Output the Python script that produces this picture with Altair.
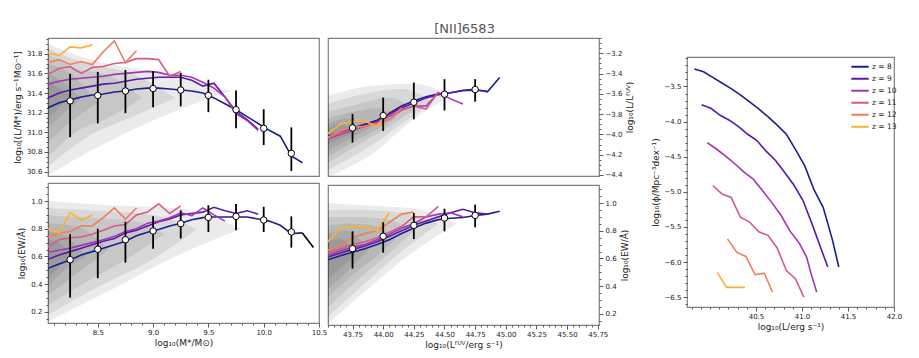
import altair as alt
import pandas as pd
import numpy as np

FONT = "DejaVu Sans"

# ---------------- redshift series ----------------
Z_LABELS = ["8", "9", "10", "11", "12", "13"]
Z_COLORS = ["#1c1f8e", "#5c18aa", "#a336b2", "#d75a88", "#f27c5c", "#f9b233"]

# stellar-mass grid (left column)
M_GRID = [8.05, 8.15, 8.25, 8.35, 8.45, 8.55, 8.65, 8.75, 8.85, 8.95, 9.05, 9.15,
          9.25, 9.35, 9.45, 9.55, 9.65, 9.75, 9.85, 9.95, 10.05, 10.15, 10.25, 10.35]

LM_Z = {
    "8": [31.25, 31.30, 31.33, 31.36, 31.38, 31.39, 31.41, 31.42, 31.44, 31.45, 31.45, 31.44,
          31.43, 31.42, 31.40, 31.35, 31.29, 31.23, 31.16, 31.09, 31.02, 30.96, 30.76, 30.69],
    "9": [31.35, 31.40, 31.43, 31.45, 31.47, 31.49, 31.50, 31.52, 31.54, 31.55, 31.56, 31.56,
          31.56, 31.53, 31.47, 31.50, 31.36, 31.21, 31.13, 31.03],
    "10": [31.49, 31.52, 31.54, 31.55, 31.56, 31.57, 31.59, 31.60, 31.61, 31.62, 31.61, 31.58,
           31.58, 31.56, 31.51, 31.45, 31.36, 31.19, 31.12, 31.02],
    "11": [31.59, 31.65, 31.67, 31.60, 31.66, 31.67, 31.70, 31.71, 31.75, 31.75, 31.74, 31.57, 31.62],
    "12": [31.71, 31.74, 31.69, 31.72, 31.69, 31.82, 31.93, 31.71, 31.83],
    "13": [31.81, 31.78, 31.87, 31.86, 31.89],
}

EWM_Z = {
    "8": [0.515, 0.545, 0.575, 0.61, 0.635, 0.66, 0.685, 0.71, 0.75, 0.775, 0.795, 0.82,
          0.84, 0.865, 0.88, 0.885, 0.885, 0.885, 0.885, 0.87, 0.855, 0.825, 0.765, 0.77],
    "9": [0.58, 0.61, 0.635, 0.66, 0.685, 0.71, 0.73, 0.77, 0.79, 0.82, 0.85, 0.87,
          0.90, 0.91, 0.92, 0.955, 0.93, 0.91, 0.93, 0.905],
    "10": [0.63, 0.645, 0.66, 0.68, 0.70, 0.72, 0.745, 0.78, 0.80, 0.84, 0.855, 0.88,
           0.915, 0.895, 0.95, 0.90, 0.855],
    "11": [0.67, 0.72, 0.735, 0.74, 0.76, 0.79, 0.82, 0.83, 0.90, 0.92, 0.98, 0.91, 0.965],
    "12": [0.74, 0.77, 0.78, 0.82, 0.82, 0.88, 0.95, 0.87, 0.95],
    "13": [0.80, 0.767, 0.916, 0.863, 0.897],
}
TAIL_M = [10.35, 10.45]
TAIL_EW = [0.77, 0.665]

# FUV-luminosity grid (middle column)
L_GRID = [43.55, 43.65, 43.75, 43.85, 43.95, 44.05, 44.15, 44.25, 44.35, 44.45,
          44.55, 44.65, 44.75, 44.85, 44.95]

RL_Z = {
    "8": [-4.02, -3.98, -3.94, -3.90, -3.86, -3.79, -3.72, -3.67, -3.63, -3.60, -3.59, -3.565, -3.555, -3.58, -3.44],
    "9": [-4.03, -3.99, -3.95, -3.91, -3.87, -3.80, -3.74, -3.69, -3.64, -3.61, -3.59, -3.57, -3.565, -3.575],
    "10": [-4.04, -4.00, -3.96, -3.92, -3.88, -3.82, -3.76, -3.72, -3.72, -3.59, -3.65, -3.70],
    "11": [-4.03, -3.99, -3.95, -3.92, -3.89, -3.85, -3.76, -3.72, -3.75, -3.58],
    "12": [-4.03, -3.97, -3.93, -3.92, -3.90, -3.85, -3.74],
    "13": [-3.99, -3.90, -3.87, -3.87, -3.92, -3.76],
}

EWL_Z = {
    "8": [0.59, 0.62, 0.645, 0.67, 0.70, 0.735, 0.78, 0.82, 0.855, 0.88, 0.89, 0.895, 0.91, 0.92, 0.94],
    "9": [0.61, 0.64, 0.665, 0.69, 0.72, 0.76, 0.80, 0.84, 0.87, 0.90, 0.93, 0.955, 0.93, 0.92],
    "10": [0.62, 0.655, 0.68, 0.70, 0.735, 0.775, 0.82, 0.85, 0.90, 0.92, 0.93, 0.90],
    "11": [0.64, 0.67, 0.70, 0.72, 0.75, 0.79, 0.83, 0.90, 0.90, 0.975],
    "12": [0.66, 0.70, 0.75, 0.78, 0.80, 0.86, 0.92, 0.935],
    "13": [0.72, 0.82, 0.83, 0.83, 0.80, 0.93],
}

# medians with 16-84 ranges (white points)
M_PTS = [8.25, 8.5, 8.75, 9.0, 9.25, 9.5, 9.75, 10.0, 10.25]
LM_MED = [31.32, 31.375, 31.42, 31.445, 31.43, 31.375, 31.23, 31.04, 30.785]
LM_LO = [30.95, 31.09, 31.195, 31.255, 31.265, 31.205, 31.04, 30.87, 30.605]
LM_HI = [31.595, 31.615, 31.635, 31.625, 31.605, 31.535, 31.425, 31.235, 31.05]
EWM_MED = [0.577, 0.652, 0.721, 0.784, 0.837, 0.882, 0.889, 0.863, 0.777]
EWM_LO = [0.303, 0.443, 0.556, 0.656, 0.73, 0.777, 0.789, 0.777, 0.664]
EWM_HI = [0.76, 0.80, 0.85, 0.89, 0.933, 0.969, 0.978, 0.959, 0.889]

L_PTS = [43.75, 44.0, 44.25, 44.5, 44.75]
RL_MED = [-3.936, -3.815, -3.683, -3.604, -3.558]
RL_LO = [-4.081, -3.966, -3.851, -3.765, -3.677]
RL_HI = [-3.798, -3.637, -3.489, -3.456, -3.456]
EWL_MED = [0.671, 0.76, 0.839, 0.892, 0.911]
EWL_LO = [0.527, 0.642, 0.74, 0.796, 0.825]
EWL_HI = [0.796, 0.861, 0.928, 0.959, 0.988]

# luminosity functions (right panel)
LF_L = {
    "8": [39.83, 39.93, 40.03, 40.13, 40.23, 40.33, 40.43, 40.53, 40.63, 40.73, 40.83, 40.93, 41.03, 41.13, 41.23, 41.33, 41.40],
    "9": [39.91, 40.01, 40.11, 40.21, 40.31, 40.41, 40.51, 40.61, 40.71, 40.81, 40.91, 41.01, 41.11, 41.21, 41.28],
    "10": [39.97, 40.07, 40.17, 40.27, 40.37, 40.47, 40.57, 40.67, 40.77, 40.87, 40.97, 41.05, 41.10, 41.16],
    "11": [40.03, 40.13, 40.23, 40.33, 40.43, 40.53, 40.63, 40.73, 40.83, 40.93, 41.02],
    "12": [40.19, 40.29, 40.39, 40.49, 40.59, 40.68],
    "13": [40.08, 40.18, 40.28, 40.38],
}
LF_PHI = {
    "8": [-3.25, -3.29, -3.37, -3.45, -3.53, -3.62, -3.72, -3.82, -3.93, -4.05, -4.18, -4.40, -4.63, -4.97, -5.22, -5.68, -6.07],
    "9": [-3.76, -3.81, -3.91, -3.98, -4.07, -4.18, -4.27, -4.42, -4.55, -4.72, -4.90, -5.12, -5.46, -5.82, -6.07],
    "10": [-4.30, -4.39, -4.49, -4.60, -4.72, -4.82, -4.98, -5.15, -5.33, -5.56, -5.73, -5.93, -6.17, -6.43],
    "11": [-4.91, -5.03, -5.08, -5.36, -5.43, -5.57, -5.62, -5.80, -6.12, -6.24, -6.50],
    "12": [-5.67, -5.86, -5.92, -6.18, -6.16, -6.43],
    "13": [-6.15, -6.36, -6.36, -6.36],
}

# background population density, as nested contour bands (x, lower, upper)
BANDS_LM = [
    ([8.05, 8.5, 9.0, 9.4, 9.7], [30.56, 30.85, 31.12, 31.3, 31.42], [31.9, 31.72, 31.62, 31.52, 31.42]),
    ([8.05, 8.4, 8.8, 9.2], [30.65, 30.95, 31.15, 31.35], [31.85, 31.7, 31.6, 31.35]),
    ([8.05, 8.3, 8.6, 8.9], [30.75, 31.0, 31.15, 31.35], [31.8, 31.65, 31.58, 31.35]),
    ([8.05, 8.25, 8.5], [30.9, 31.1, 31.3], [31.7, 31.6, 31.3]),
    ([8.05, 8.2, 8.35], [31.05, 31.2, 31.35], [31.6, 31.5, 31.35]),
    ([8.05, 8.15, 8.25], [31.15, 31.25, 31.38], [31.52, 31.45, 31.38]),
]
BANDS_EWM = [
    ([8.05, 8.6, 9.2, 9.8], [0.13, 0.35, 0.6, 0.8], [1.0, 0.97, 0.95, 0.8]),
    ([8.05, 8.5, 9.0, 9.4], [0.18, 0.38, 0.58, 0.8], [0.95, 0.93, 0.9, 0.8]),
    ([8.05, 8.4, 8.8, 9.1], [0.25, 0.42, 0.6, 0.76], [0.9, 0.88, 0.86, 0.76]),
    ([8.05, 8.3, 8.6], [0.32, 0.47, 0.65], [0.84, 0.82, 0.65]),
    ([8.05, 8.2, 8.4], [0.38, 0.5, 0.6], [0.78, 0.75, 0.6]),
    ([8.05, 8.15, 8.25], [0.44, 0.52, 0.6], [0.72, 0.7, 0.6]),
]
BANDS_RL = [
    ([43.55, 43.9, 44.25, 44.55], [-4.42, -4.2, -3.85, -3.62], [-3.62, -3.52, -3.5, -3.62]),
    ([43.55, 43.85, 44.15, 44.4], [-4.35, -4.15, -3.9, -3.68], [-3.7, -3.6, -3.55, -3.68]),
    ([43.55, 43.8, 44.05, 44.25], [-4.28, -4.1, -3.92, -3.76], [-3.78, -3.7, -3.64, -3.76]),
    ([43.55, 43.75, 43.95, 44.1], [-4.22, -4.08, -3.95, -3.84], [-3.84, -3.78, -3.74, -3.84]),
    ([43.55, 43.7, 43.9], [-4.16, -4.06, -3.93], [-3.9, -3.84, -3.93]),
    ([43.55, 43.65, 43.78], [-4.1, -4.04, -3.98], [-3.94, -3.9, -3.98]),
]
BANDS_EWL = [
    ([43.55, 43.9, 44.25, 44.6], [0.13, 0.4, 0.65, 0.85], [1.0, 0.98, 0.96, 0.85]),
    ([43.55, 43.85, 44.15, 44.45], [0.18, 0.42, 0.65, 0.85], [0.95, 0.95, 0.93, 0.85]),
    ([43.55, 43.8, 44.05, 44.25], [0.25, 0.45, 0.64, 0.8], [0.9, 0.9, 0.88, 0.8]),
    ([43.55, 43.75, 43.95, 44.1], [0.32, 0.48, 0.62, 0.74], [0.84, 0.85, 0.83, 0.74]),
    ([43.55, 43.7, 43.88], [0.38, 0.5, 0.66], [0.78, 0.8, 0.66]),
    ([43.55, 43.65, 43.78], [0.45, 0.53, 0.62], [0.72, 0.74, 0.62]),
]

# axis tick labels
M_MAJOR = [8.5, 9.0, 9.5, 10.0, 10.5]
L_MAJOR = [43.75, 44.0, 44.25, 44.5, 44.75, 45.0, 45.25, 45.5, 45.75]
LM_MAJOR = [30.6, 30.8, 31.0, 31.2, 31.4, 31.6, 31.8]
EW_MAJOR = [0.2, 0.4, 0.6, 0.8, 1.0]
RL_MAJOR = [-4.4, -4.2, -4.0, -3.8, -3.6, -3.4, -3.2]
LF_X_MAJOR = [40.5, 41.0, 41.5, 42.0]
LF_Y_MAJOR = [-3.5, -4.0, -4.5, -5.0, -5.5, -6.0, -6.5]

# ---------------- helpers ----------------
zscale = alt.Scale(domain=Z_LABELS, range=Z_COLORS)


def minor_ticks(lo, hi, step):
    n0 = int(np.ceil(lo / step - 1e-9))
    n1 = int(np.floor(hi / step + 1e-9))
    return [round(k * step, 4) for k in range(n0, n1 + 1)]


def make_axis(major, dom, step, fmt, orient, title):
    vals = sorted(set(minor_ticks(dom[0], dom[1], step)) | set(major))
    vals = [v for v in vals if dom[0] <= v <= dom[1]]
    test = " || ".join(f"abs(datum.value - ({m})) < 1e-6" for m in major)
    kw = dict(
        values=vals, orient=orient, title=title, format=fmt,
        labelExpr=f"({test}) ? datum.label : ''",
        tickSize={"condition": {"test": test, "value": 4}, "value": 2},
        labelOverlap=False, labelFlush=False, domain=False, grid=False,
        labelFontSize=7, labelFont=FONT, titleFont=FONT, titleFontSize=9,
        titleFontWeight="normal", tickColor="#333", labelColor="#222",
        titleColor="#222", labelPadding=2, titlePadding=4, tickWidth=0.8,
    )
    if orient == "right":
        kw["titleAngle"] = 270
        kw["titleBaseline"] = "top"
    if orient == "bottom":
        kw["labelPadding"] = 1
        kw["titlePadding"] = 3
    return alt.Axis(**kw)


def lines_df(grid, series):
    rows = []
    for z in Z_LABELS:
        for xv, yv in zip(grid, series[z]):
            rows.append({"x": xv, "y": yv, "z": z})
    return pd.DataFrame(rows)


def bands_df(bands):
    rows = []
    for i, (xs, lo, hi) in enumerate(bands):
        for a, b, c in zip(xs, lo, hi):
            rows.append({"x": a, "lo": b, "hi": c, "lev": str(i)})
    return pd.DataFrame(rows)


def panel(xdom, ydom, xa, ya, bands, ldf, px, pmed, plo, phi, w, h, tail=None):
    xs = alt.Scale(domain=xdom, nice=False, zero=False)
    ys = alt.Scale(domain=ydom, nice=False, zero=False)

    def X():
        return alt.X("x:Q", scale=xs, axis=xa)

    def Y(f):
        return alt.Y(f + ":Q", scale=ys, axis=ya)

    pdf = pd.DataFrame({"x": px, "med": pmed, "lo": plo, "hi": phi})
    band = alt.Chart(bands_df(bands)).mark_area(
        color="black", opacity=0.08, interpolate="monotone", clip=True
    ).encode(x=X(), y=Y("lo"), y2="hi:Q", detail="lev:N")
    line = alt.Chart(ldf).mark_line(strokeWidth=1.6, clip=True).encode(
        x=X(), y=Y("y"), color=alt.Color("z:N", scale=zscale, legend=None),
        detail="z:N", order="x:Q")
    layers = [band, line]
    if tail is not None:
        tdf = pd.DataFrame({"x": tail[0], "y": tail[1]})
        layers.append(alt.Chart(tdf).mark_line(color="black", strokeWidth=1.6).encode(x=X(), y=Y("y")))
    err = alt.Chart(pdf).mark_rule(color="black", strokeWidth=1.8).encode(
        x=X(), y=Y("lo"), y2="hi:Q")
    dot = alt.Chart(pdf).mark_circle(
        color="white", stroke="black", strokeWidth=1, size=42, opacity=1
    ).encode(x=X(), y=Y("med"))
    layers += [err, dot]
    return alt.layer(*layers).properties(width=w, height=h)


# ---------------- panels ----------------
M_DOM = [8.05, 10.5]
L_DOM = [43.55, 45.76]
LM_DOM = [30.555, 31.96]
EW_DOM = [0.12, 1.13]
RL_DOM = [-4.41, -3.05]
W, H_TOP, H_BOT = 271, 138, 140

tl = panel(M_DOM, LM_DOM, None,
           make_axis(LM_MAJOR, LM_DOM, 0.05, ".1f", "left", "log₁₀[(L/M*)/erg s⁻¹M⊙⁻¹]"),
           BANDS_LM, lines_df(M_GRID, LM_Z), M_PTS, LM_MED, LM_LO, LM_HI, W, H_TOP)
bl = panel(M_DOM, EW_DOM,
           make_axis(M_MAJOR, M_DOM, 0.1, ".1f", "bottom", "log₁₀(M*/M⊙)"),
           make_axis(EW_MAJOR, EW_DOM, 0.05, ".1f", "left", "log₁₀(EW/Å)"),
           BANDS_EWM, lines_df(M_GRID, EWM_Z), M_PTS, EWM_MED, EWM_LO, EWM_HI, W, H_BOT,
           tail=(TAIL_M, TAIL_EW))
tm = panel(L_DOM, RL_DOM, None,
           make_axis(RL_MAJOR, RL_DOM, 0.05, ".1f", "right", "log₁₀(L/Lᶠᵁⱽ)"),
           BANDS_RL, lines_df(L_GRID, RL_Z), L_PTS, RL_MED, RL_LO, RL_HI, W, H_TOP)
bm = panel(L_DOM, EW_DOM,
           make_axis(L_MAJOR, L_DOM, 0.05, ".2f", "bottom", "log₁₀(Lᶠᵁⱽ/erg s⁻¹)"),
           make_axis(EW_MAJOR, EW_DOM, 0.05, ".1f", "right", "log₁₀(EW/Å)"),
           BANDS_EWL, lines_df(L_GRID, EWL_Z), L_PTS, EWL_MED, EWL_LO, EWL_HI, W, H_BOT)

# right panel: luminosity functions
LF_XDOM = [39.75, 42.0]
LF_YDOM = [-6.64, -3.08]
lf_rows = []
for z in Z_LABELS:
    for a, b in zip(LF_L[z], LF_PHI[z]):
        lf_rows.append({"x": a, "y": b, "z": z})
lf_df = pd.DataFrame(lf_rows)

right = alt.Chart(lf_df).mark_line(strokeWidth=1.6).encode(
    x=alt.X("x:Q", scale=alt.Scale(domain=LF_XDOM, nice=False, zero=False),
            axis=make_axis(LF_X_MAJOR, LF_XDOM, 0.1, ".1f", "bottom", "log₁₀(L/erg s⁻¹)")),
    y=alt.Y("y:Q", scale=alt.Scale(domain=LF_YDOM, nice=False, zero=False),
            axis=make_axis(LF_Y_MAJOR, LF_YDOM, 0.1, ".1f", "left", "log₁₀(ϕ/Mpc⁻³dex⁻¹)")),
    color=alt.Color("z:N", scale=zscale, legend=alt.Legend(
        title=None, orient="none", legendX=163, legendY=4,
        symbolType="stroke", symbolStrokeWidth=2, symbolSize=300,
        clipHeight=11.7, rowPadding=0, labelFont=FONT, labelFontSize=7.5,
        labelColor="#222", labelOffset=2,
        labelExpr="'z = ' + datum.label")),
    detail="z:N", order="x:Q",
).properties(width=207, height=250)

spacer = alt.Chart(pd.DataFrame({"v": [0]})).mark_point(opacity=0).encode(
    x=alt.X("v:Q", axis=None), y=alt.Y("v:Q", axis=None)
).properties(width=207, height=4, view=alt.ViewBackground(strokeOpacity=0))

left_col = alt.vconcat(tl, bl, spacing=5).resolve_scale(
    x="independent", y="independent", color="independent")
mid_col = alt.vconcat(tm, bm, spacing=5).resolve_scale(
    x="independent", y="independent", color="independent")
right_col = alt.vconcat(spacer, right, spacing=10).resolve_scale(
    x="independent", y="independent", color="independent")

lm = alt.hconcat(left_col, mid_col, spacing=-1).resolve_scale(
    x="independent", y="independent", color="independent")

chart = alt.hconcat(lm, right_col, spacing=14).resolve_scale(
    x="independent", y="independent", color="independent"
).properties(
    title=alt.TitleParams("[NII]6583", font=FONT, fontSize=13, fontWeight="normal",
                          color="#555", anchor="middle", dx=7, offset=-3),
    padding={"left": 4, "top": 15, "right": 2, "bottom": 0},
).configure_view(stroke="#808080", strokeWidth=1.2)

chart.save("out.html", embed_options={"renderer": "svg", "actions": False})
